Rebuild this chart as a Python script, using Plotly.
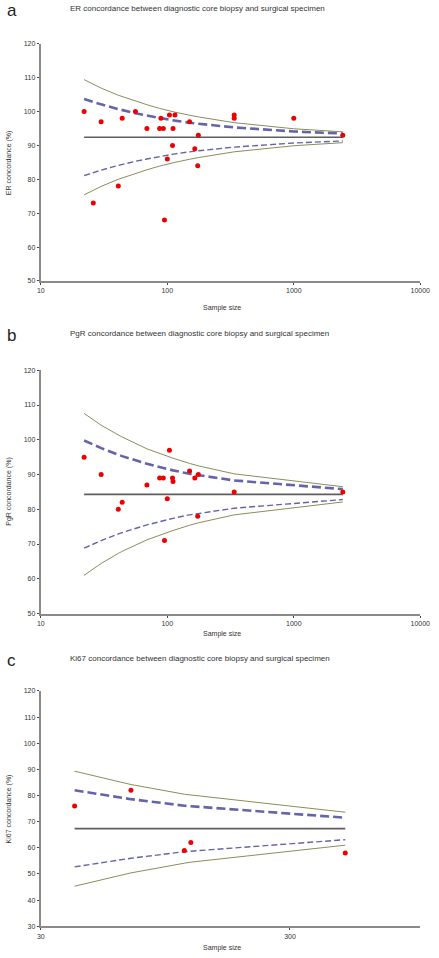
import plotly.graph_objects as go

# ---------------- data ----------------
er_n = [22, 26, 30, 41, 44, 56, 69, 87, 89, 93, 95, 100, 104, 110, 111, 115, 150, 165, 174, 176, 338, 338, 1000, 2440]
er_conc = [100, 73, 97, 78, 98, 100, 95, 95, 98, 95, 68, 86, 99, 90, 95, 99, 97, 89, 84, 93, 99, 98, 98, 93]
er_curve_n = [22, 26, 30, 41, 44, 56, 69, 87, 89, 93, 95, 100, 104, 110, 111, 115, 150, 165, 174, 176, 338, 1000, 2440]
er_u3 = [109.4, 108.0, 106.9, 104.8, 104.4, 103.0, 102.0, 100.9, 100.8, 100.6, 100.6, 100.4, 100.2, 100.0, 99.9, 99.8, 98.9, 98.6, 98.4, 98.4, 96.7, 94.9, 94.0]
er_u2 = [103.7, 102.8, 102.1, 100.7, 100.4, 99.5, 98.8, 98.1, 98.0, 97.9, 97.8, 97.7, 97.6, 97.5, 97.4, 97.3, 96.7, 96.5, 96.4, 96.4, 95.3, 94.1, 93.5]
er_l2 = [81.1, 82.0, 82.7, 84.1, 84.4, 85.3, 86.0, 86.7, 86.8, 86.9, 87.0, 87.1, 87.2, 87.4, 87.4, 87.5, 88.1, 88.3, 88.4, 88.4, 89.5, 90.7, 91.3]
er_l3 = [75.4, 76.8, 77.9, 80.0, 80.4, 81.8, 82.8, 83.9, 84.0, 84.2, 84.2, 84.5, 84.6, 84.8, 84.9, 85.0, 85.9, 86.2, 86.4, 86.4, 88.1, 89.9, 90.8]
er_mean = 92.4

pgr_n = [22, 30, 41, 44, 69, 87, 93, 95, 100, 104, 110, 111, 150, 165, 174, 176, 338, 2440]
pgr_conc = [95, 90, 80, 82, 87, 89, 89, 71, 83, 97, 89, 88, 91, 89, 78, 90, 85, 85]
pgr_curve_n = [22, 30, 41, 44, 69, 87, 93, 95, 100, 104, 110, 111, 150, 165, 174, 176, 338, 2440]
pgr_u3 = [107.6, 104.2, 101.4, 100.8, 97.4, 96.0, 95.6, 95.5, 95.2, 95.0, 94.7, 94.7, 93.2, 92.8, 92.6, 92.5, 90.2, 86.5]
pgr_u2 = [99.8, 97.6, 95.7, 95.3, 93.1, 92.1, 91.8, 91.8, 91.6, 91.4, 91.2, 91.2, 90.2, 90.0, 89.8, 89.8, 88.3, 85.8]
pgr_l2 = [68.8, 71.0, 72.9, 73.3, 75.5, 76.5, 76.8, 76.8, 77.0, 77.2, 77.4, 77.4, 78.4, 78.6, 78.8, 78.8, 80.3, 82.8]
pgr_l3 = [61.0, 64.4, 67.3, 67.9, 71.2, 72.6, 73.0, 73.1, 73.4, 73.6, 73.9, 73.9, 75.4, 75.8, 76.0, 76.1, 78.4, 82.1]
pgr_mean = 84.3

ki_n = [41, 69, 113, 120, 500]
ki_conc = [76, 82, 59, 62, 58]
ki_curve_n = [41, 69, 113, 120, 500]
ki_u3 = [89.3, 84.2, 80.5, 80.2, 73.6]
ki_u2 = [82.0, 78.6, 76.1, 75.9, 71.5]
ki_l2 = [52.7, 56.0, 58.5, 58.7, 63.1]
ki_l3 = [45.3, 50.4, 54.1, 54.5, 61.0]
ki_mean = 67.3

titles = ["ER concordance between diagnostic core biopsy and surgical specimen",
          "PgR concordance between diagnostic core biopsy and surgical specimen",
          "Ki67 concordance between diagnostic core biopsy and surgical specimen"]
ytitles = ["ER concordance (%)", "PgR concordance (%)", "Ki67 concordance (%)"]
letters = ["a", "b", "c"]
xticks_ab = [10, 100, 1000, 10000]
xticks_c = [30, 300]
yticks_ab = [50, 60, 70, 80, 90, 100, 110, 120]
yticks_c = [30, 40, 50, 60, 70, 80, 90, 100, 110, 120]

# ---------------- styling ----------------
W, H = 439, 958
FONT = "Liberation Sans, Arial, sans-serif"
OLIVE = "#8c8c5c"
BLUE = "#6464aa"
MEANC = "#5e5e5e"
AXC = "#8a8a8a"

panels = [
    dict(n=er_n, c=er_conc, cn=er_curve_n, u3=er_u3, u2=er_u2, l2=er_l2, l3=er_l3, m=er_mean,
         top=40, bot=279, xr=[0.9999, 4.0001], xt=xticks_ab, yt=yticks_ab, yr=[50, 120],
         title_y=5, xlab_y=306),
    dict(n=pgr_n, c=pgr_conc, cn=pgr_curve_n, u3=pgr_u3, u2=pgr_u2, l2=pgr_l2, l3=pgr_l3, m=pgr_mean,
         top=369, bot=614, xr=[0.9999, 4.0001], xt=xticks_ab, yt=yticks_ab, yr=[50, 120],
         title_y=332, xlab_y=635),
    dict(n=ki_n, c=ki_conc, cn=ki_curve_n, u3=ki_u3, u2=ki_u2, l2=ki_l2, l3=ki_l3, m=ki_mean,
         top=692, bot=929, xr=[1.4770, 3.0], xt=xticks_c, yt=yticks_c, yr=[30, 120],
         title_y=659, xlab_y=951),
]

fig = go.Figure()
annotations = []
X0, X1 = 38, 430

for i, p in enumerate(panels):
    k = "" if i == 0 else str(i + 1)
    xa, ya = "x" + k, "y" + k
    cn = p["cn"]
    fig.add_trace(go.Scatter(x=cn, y=p["u3"], mode="lines", line=dict(color=OLIVE, width=1),
                             xaxis=xa, yaxis=ya, showlegend=False))
    fig.add_trace(go.Scatter(x=cn, y=p["l3"], mode="lines", line=dict(color=OLIVE, width=1),
                             xaxis=xa, yaxis=ya, showlegend=False))
    fig.add_trace(go.Scatter(x=cn, y=p["u2"], mode="lines",
                             line=dict(color=BLUE, width=2.6, dash="9px,4px"),
                             xaxis=xa, yaxis=ya, showlegend=False))
    fig.add_trace(go.Scatter(x=cn, y=p["l2"], mode="lines",
                             line=dict(color=BLUE, width=1.4, dash="6px,3px"),
                             xaxis=xa, yaxis=ya, showlegend=False))
    fig.add_trace(go.Scatter(x=[cn[0], cn[-1]], y=[p["m"], p["m"]], mode="lines",
                             line=dict(color=MEANC, width=1.7),
                             xaxis=xa, yaxis=ya, showlegend=False))
    fig.add_trace(go.Scatter(x=p["n"], y=p["c"], mode="markers",
                             marker=dict(color="#ee0000", size=5, line=dict(width=0)),
                             xaxis=xa, yaxis=ya, showlegend=False))

    xd = [X0 / W, X1 / W]
    yd = [1 - p["bot"] / H, 1 - p["top"] / H]
    axis_common = dict(showgrid=False, zeroline=False, showline=True, linecolor=AXC, linewidth=2,
                       ticks="outside", ticklen=2, tickwidth=1, tickcolor="#444",
                       ticklabeloverflow="allow",
                       tickfont=dict(size=7, color="#333", family=FONT))
    fig.layout["xaxis" + k] = dict(type="log", range=p["xr"], domain=xd, anchor=ya,
                                   tickvals=p["xt"], ticktext=[str(v) for v in p["xt"]],
                                   **axis_common)
    fig.layout["yaxis" + k] = dict(range=p["yr"], domain=yd, anchor=xa,
                                   tickvals=p["yt"], **axis_common)

    annotations.append(dict(text=letters[i], x=1 / W, y=1 - (p["title_y"] + 2) / H,
                            xref="paper", yref="paper", xanchor="left", yanchor="middle",
                            showarrow=False, font=dict(size=17, color="#222", family=FONT)))
    annotations.append(dict(text=titles[i], x=66 / W, y=1 - p["title_y"] / H,
                            xref="paper", yref="paper", xanchor="left", yanchor="middle",
                            showarrow=False, font=dict(size=8, color="#333", family=FONT)))
    annotations.append(dict(text=ytitles[i], x=5 / W, y=1 - ((p["top"] + p["bot"]) / 2) / H,
                            xref="paper", yref="paper", xanchor="center", yanchor="middle",
                            textangle=-90, showarrow=False,
                            font=dict(size=7, color="#333", family=FONT)))
    annotations.append(dict(text="Sample size", x=((X0 + X1) / 2 - 9) / W, y=1 - p["xlab_y"] / H,
                            xref="paper", yref="paper", xanchor="center", yanchor="middle",
                            showarrow=False, font=dict(size=7, color="#333", family=FONT)))

fig.update_layout(width=W, height=H, margin=dict(l=0, r=0, t=0, b=0),
                  paper_bgcolor="white", plot_bgcolor="white",
                  annotations=annotations, showlegend=False,
                  font=dict(family=FONT))

fig.write_html("out.html", config={"displayModeBar": False},
               post_script="document.body.style.margin='0px';document.body.style.overflow='hidden';")
